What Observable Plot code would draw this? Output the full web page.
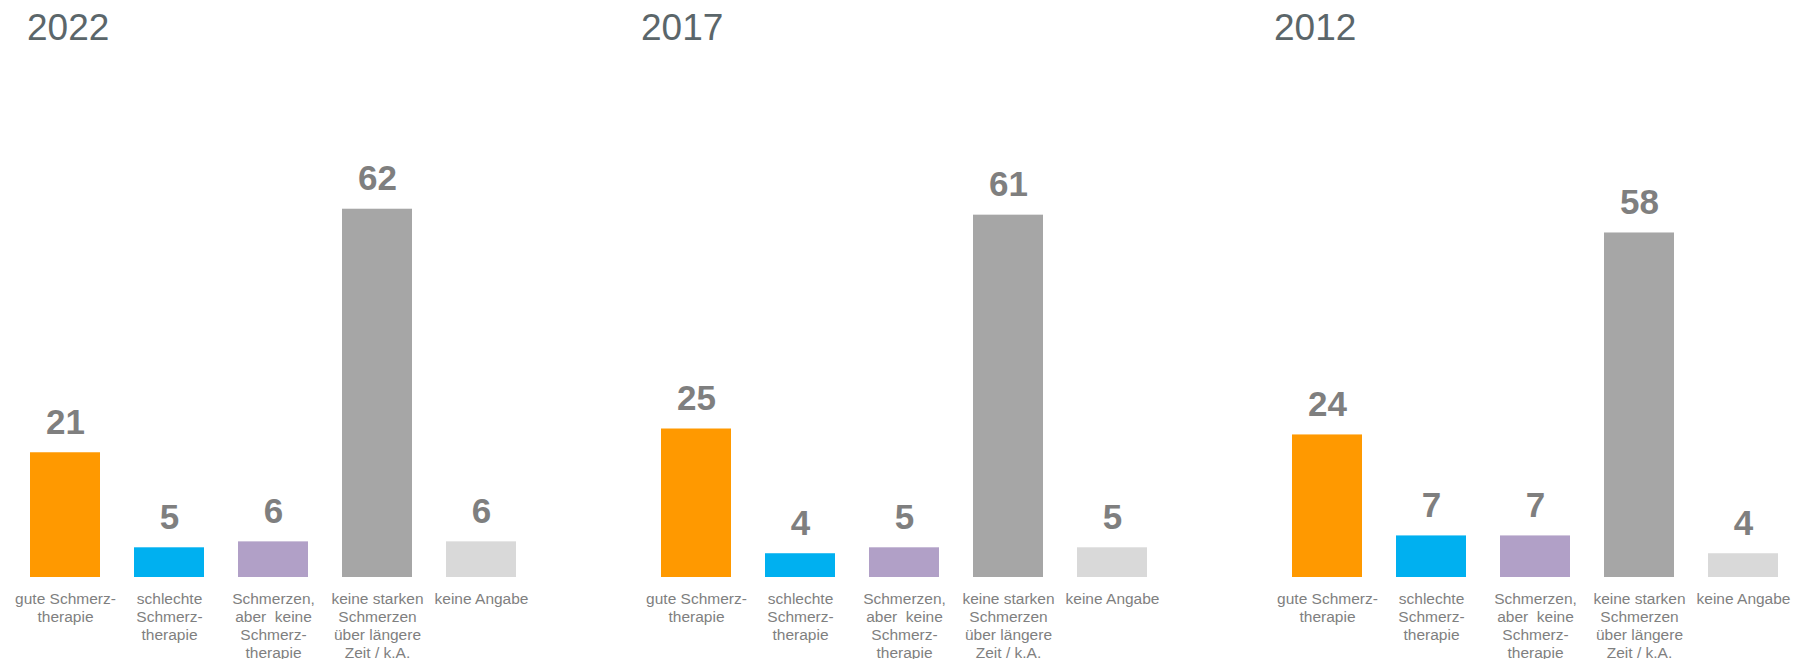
<!DOCTYPE html>
<html>
<head>
<meta charset="utf-8">
<script src="https://cdn.jsdelivr.net/npm/d3@7"></script>
<script src="https://cdn.jsdelivr.net/npm/@observablehq/plot@0.6"></script>
<style>
  html, body { margin: 0; padding: 0; background: #fff; overflow: hidden; }
  #root { position: relative; width: 1797px; height: 659px; overflow: hidden; font-family: "Liberation Sans", Arial, sans-serif; }
  .title { position: absolute; top: 9px; font-size: 37px; line-height: 1; color: #5b666a; font-family: "Liberation Sans", Arial, sans-serif; }
  .panel { position: absolute; top: 0; }
  .panel svg { overflow: visible; max-width: none !important; }
</style>
</head>
<body>
<div id="root"></div>
<script>
// ---- data ----
const years = ["2022", "2017", "2012"];
const categories = ["gut", "schlecht", "keine Therapie", "keine starken", "keine Angabe"];
const categoryLabels = [
  "gute Schmerz-\ntherapie",
  "schlechte\nSchmerz-\ntherapie",
  "Schmerzen,\naber  keine\nSchmerz-\ntherapie",
  "keine starken\nSchmerzen\nüber längere\nZeit / k.A.",
  "keine Angabe"
];
const values2022 = [21, 5, 6, 62, 6];
const values2017 = [25, 4, 5, 61, 5];
const values2012 = [24, 7, 7, 58, 4];
const barColors = ["#ff9900", "#00b0f0", "#b1a0c7", "#a6a6a6", "#d9d9d9"];

const seriesByYear = {"2022": values2022, "2017": values2017, "2012": values2012};

// ---- layout (page pixel geometry) ----
const layouts = [
  {title: 27, first: 28.6, step: 104.8, bw: 70.5},
  {title: 641, first: 659, step: 104.8, bw: 70.5},
  {title: 1274, first: 1290.4, step: 104.7, bw: 70.5}
];
const H = 659, baseline = 577, pxPerUnit = 5.94, yMax = 70, side = 30;

const root = document.getElementById("root");

years.forEach((year, i) => {
  const L = layouts[i];
  const vals = seriesByYear[year];
  const data = categories.map((c, j) => ({category: c, label: categoryLabels[j], value: vals[j]}));
  const p = 1 - L.bw / L.step;
  const o = p / 2;
  const a = L.first - o * L.step;       // band range start in page coords
  const rangeW = 5 * L.step;
  const left = a - side;
  const W = rangeW + 2 * side;

  const chart = Plot.plot({
    width: W,
    height: H,
    marginLeft: side,
    marginRight: side,
    marginTop: baseline - yMax * pxPerUnit,
    marginBottom: H - baseline,
    style: {background: "transparent", overflow: "visible", maxWidth: "none"},
    x: {domain: categories, paddingInner: p, paddingOuter: o, axis: null},
    y: {domain: [0, yMax], axis: null},
    color: {domain: categories, range: barColors},
    marks: [
      Plot.barY(data, {x: "category", y: "value", fill: "category"}),
      Plot.text(data, {
        x: "category", y: "value", text: d => String(d.value),
        lineAnchor: "bottom", dy: -19,
        fontSize: 35, fontWeight: "bold", fill: "#7f7f7f",
        fontFamily: "'Liberation Sans', Arial, sans-serif"
      }),
      Plot.text(data, {
        x: "category", y: () => 0, text: "label",
        lineAnchor: "top", dy: 14, lineHeight: 1.15,
        fontSize: 15.5, fill: "#7f7f7f",
        fontFamily: "'Liberation Sans', Arial, sans-serif"
      })
    ]
  });

  const wrap = document.createElement("div");
  wrap.className = "panel";
  wrap.style.left = left + "px";
  wrap.style.width = W + "px";
  wrap.style.height = H + "px";
  wrap.appendChild(chart);
  root.appendChild(wrap);

  const t = document.createElement("div");
  t.className = "title";
  t.style.left = L.title + "px";
  t.textContent = year;
  root.appendChild(t);
});
</script>
</body>
</html>
